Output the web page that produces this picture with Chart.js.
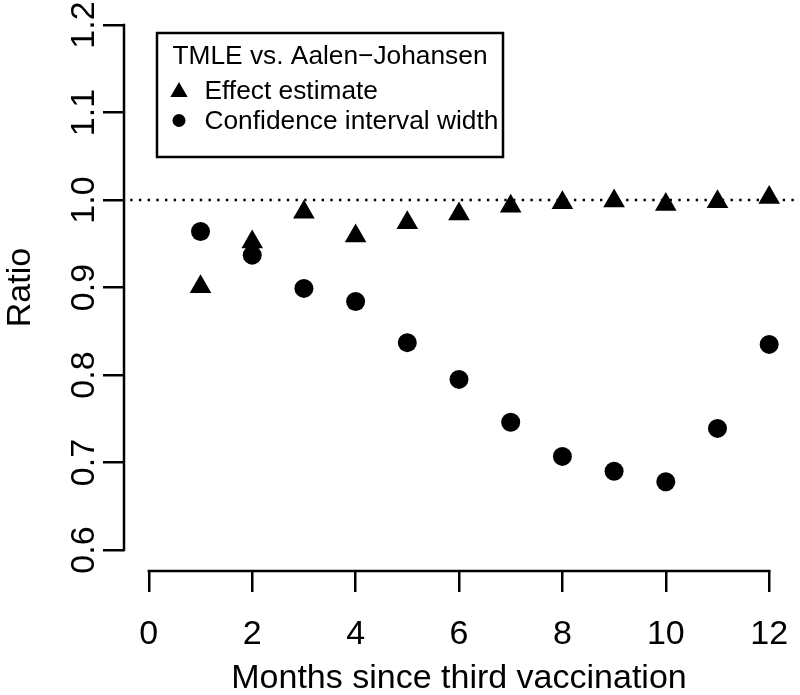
<!DOCTYPE html>
<html>
<head>
<meta charset="utf-8">
<script src="https://cdn.jsdelivr.net/npm/chart.js@4/dist/chart.umd.min.js"></script>
<style>
  body { margin: 0; background: #fff; }
  #wrap { width: 800px; height: 695px; }
</style>
</head>
<body>
<div id="wrap"><canvas id="chart" width="800" height="695"></canvas></div>
<script>
const months = [1, 2, 3, 4, 5, 6, 7, 8, 9, 10, 11, 12];
const effectEstimate = [0.901, 0.952, 0.986, 0.959, 0.974, 0.984, 0.993, 0.997, 0.999, 0.995, 0.998, 1.003];
const ciWidth = [0.964, 0.937, 0.899, 0.884, 0.837, 0.795, 0.746, 0.707, 0.690, 0.678, 0.739, 0.835];
const xTicks = [0, 2, 4, 6, 8, 10, 12];
const yTicks = [0.6, 0.7, 0.8, 0.9, 1.0, 1.1, 1.2];
const refLine = 1.0;
const legendTitle = 'TMLE vs. Aalen\u2212Johansen';

const FONT = "'Liberation Sans', Arial, Helvetica, sans-serif";

// R style axis range: limits stretched by 4%
const xPad = 0.04 * (xTicks[xTicks.length - 1] - xTicks[0]);
const yPad = 0.04 * (yTicks[yTicks.length - 1] - yTicks[0]);

const toPoints = ys => months.map((m, i) => ({ x: m, y: ys[i] }));

// axis lines only from first to last tick, like R's axis()
const axisLines = {
    id: 'axisLines',
    afterDraw(chart) {
        const { ctx, chartArea } = chart;
        const xs = chart.scales.x, ys = chart.scales.y;
        ctx.save();
        ctx.strokeStyle = '#000';
        ctx.lineWidth = 2.5;
        ctx.lineCap = 'square';
        ctx.beginPath();
        ctx.moveTo(xs.getPixelForValue(xTicks[0]), chartArea.bottom);
        ctx.lineTo(xs.getPixelForValue(xTicks[xTicks.length - 1]), chartArea.bottom);
        ctx.moveTo(chartArea.left, ys.getPixelForValue(yTicks[0]));
        ctx.lineTo(chartArea.left, ys.getPixelForValue(yTicks[yTicks.length - 1]));
        ctx.stroke();
        ctx.restore();
    }
};

const refLinePlugin = {
    id: 'refLine',
    beforeDatasetsDraw(chart) {
        const { ctx, chartArea } = chart;
        const y = chart.scales.y.getPixelForValue(refLine);
        ctx.save();
        ctx.strokeStyle = '#000';
        ctx.lineWidth = 2.4;
        ctx.setLineDash([2.4, 6.3]);
        ctx.lineDashOffset = 2.5;
        ctx.beginPath();
        ctx.moveTo(chartArea.left, y);
        ctx.lineTo(chartArea.right, y);
        ctx.stroke();
        ctx.restore();
    }
};

function drawMarker(ctx, style, x, y, r) {
    ctx.beginPath();
    if (style === 'triangle') {
        ctx.moveTo(x, y - r);
        ctx.lineTo(x + r * Math.sin(2 * Math.PI / 3), y + r / 2);
        ctx.lineTo(x - r * Math.sin(2 * Math.PI / 3), y + r / 2);
        ctx.closePath();
    } else {
        ctx.arc(x, y, r, 0, 2 * Math.PI);
    }
    ctx.fill();
}

const boxLegend = {
    id: 'boxLegend',
    afterDraw(chart) {
        const { ctx, chartArea } = chart;
        const left = chartArea.left + 33, top = chartArea.top + 29;
        const w = 346, h = 124;
        ctx.save();
        ctx.strokeStyle = '#000';
        ctx.lineWidth = 2.5;
        ctx.strokeRect(left, top, w, h);
        ctx.fillStyle = '#000';
        ctx.font = '26.3px ' + FONT;
        ctx.textBaseline = 'alphabetic';
        ctx.textAlign = 'center';
        ctx.fillText(legendTitle, left + w / 2, top + 31);
        ctx.textAlign = 'left';
        const markerR = [10, 6.5];
        chart.data.datasets.forEach((ds, i) => {
            const base = top + 66 + i * 30;
            drawMarker(ctx, ds.pointStyle, left + 22, base - 8.5 + (i === 0 ? 1.5 : 0), markerR[i]);
            ctx.fillText(ds.label, left + 47.5, base);
        });
        ctx.restore();
    }
};

new Chart(document.getElementById('chart'), {
    type: 'scatter',
    data: {
        datasets: [
            {
                label: 'Effect estimate',
                data: toPoints(effectEstimate),
                pointStyle: 'triangle',
                pointRadius: 12.5,
                pointHoverRadius: 12.5,
                backgroundColor: '#000',
                borderWidth: 0
            },
            {
                label: 'Confidence interval width',
                data: toPoints(ciWidth),
                pointStyle: 'circle',
                pointRadius: 9.5,
                pointHoverRadius: 9.5,
                backgroundColor: '#000',
                borderWidth: 0
            }
        ]
    },
    options: {
        responsive: false,
        animation: false,
        layout: { autoPadding: false, padding: { top: 4, right: 6, left: 0, bottom: 0 } },
        plugins: {
            legend: { display: false },
            tooltip: { enabled: false }
        },
        scales: {
            x: {
                type: 'linear',
                min: xTicks[0] - xPad,
                max: xTicks[xTicks.length - 1] + xPad,
                afterBuildTicks: s => { s.ticks = xTicks.map(v => ({ value: v })); },
                afterFit: s => { s.height = 124; s.paddingLeft = 0; s.paddingRight = 0; },
                border: { display: false },
                grid: { drawOnChartArea: false, drawTicks: true, tickLength: 21, lineWidth: 2.5, color: '#000' },
                ticks: {
                    color: '#000',
                    font: { family: FONT, size: 34 },
                    padding: 22,
                    autoSkip: false,
                    maxRotation: 0,
                    callback: v => String(v)
                },
                title: {
                    display: true,
                    text: 'Months since third vaccination',
                    color: '#000',
                    font: { family: FONT, size: 34, lineHeight: 1 },
                    padding: { top: 0, bottom: -1 }
                }
            },
            y: {
                type: 'linear',
                min: yTicks[0] - yPad,
                max: yTicks[yTicks.length - 1] + yPad,
                afterBuildTicks: s => { s.ticks = yTicks.map(v => ({ value: v })); },
                afterFit: s => { s.width = 124; s.paddingTop = 0; s.paddingBottom = 0; },
                border: { display: false },
                grid: { drawOnChartArea: false, drawTicks: true, tickLength: 21, lineWidth: 2.5, color: '#000' },
                ticks: {
                    color: '#000',
                    font: { family: FONT, size: 34 },
                    padding: -5.5,
                    minRotation: 90,
                    maxRotation: 90,
                    crossAlign: 'center',
                    autoSkip: false,
                    callback: v => v.toFixed(1)
                },
                title: {
                    display: true,
                    text: 'Ratio',
                    color: '#000',
                    font: { family: FONT, size: 34, lineHeight: 1 },
                    padding: { top: 4, bottom: 0 }
                }
            }
        }
    },
    plugins: [refLinePlugin, axisLines, boxLegend]
});
</script>
</body>
</html>
